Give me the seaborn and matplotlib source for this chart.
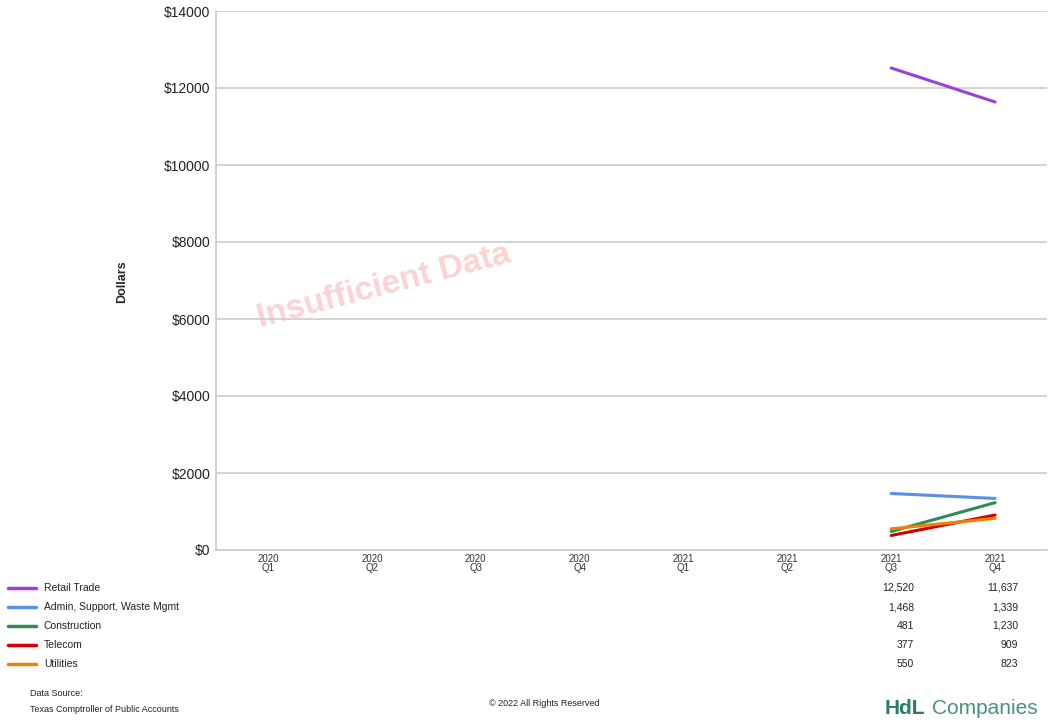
import numpy as np
import pandas as pd
import matplotlib
matplotlib.use("Agg")
import matplotlib.pyplot as plt
import seaborn as sns

# Quarterly sales tax per industry group
quarters = ["2020\nQ1", "2020\nQ2", "2020\nQ3", "2020\nQ4",
            "2021\nQ1", "2021\nQ2", "2021\nQ3", "2021\nQ4"]
series_names = ["Retail Trade", "Admin, Support, Waste Mgmt", "Construction",
                "Telecom", "Utilities"]
retail = [np.nan] * 6 + [12520, 11637]
admin = [np.nan] * 6 + [1468, 1339]
construction = [np.nan] * 6 + [481, 1230]
telecom = [np.nan] * 6 + [377, 909]
utilities = [np.nan] * 6 + [550, 823]
series_values = [retail, admin, construction, telecom, utilities]
colors = ["#9b3fdc", "#5b8ee6", "#2e8b57", "#d40000", "#f08000"]
yticks = [0, 2000, 4000, 6000, 8000, 10000, 12000, 14000]

rows = []
for name, vals in zip(series_names, series_values):
    for i, v in enumerate(vals):
        rows.append({"series": name, "idx": i, "value": v})
df = pd.DataFrame(rows)

sns.set_theme(style="white")
plt.rcParams["font.family"] = ["Liberation Sans", "DejaVu Sans"]

fig = plt.figure(figsize=(10.48, 7.21), dpi=100)
ax = fig.add_axes([216 / 1048, 1 - 550 / 721, 831 / 1048, 539 / 721])

# watermark behind the data
ax.text(0.202, 0.49, "Insufficient Data", transform=ax.transAxes, rotation=14.5,
        ha="center", va="center", fontsize=24, fontweight="bold",
        color="#fbd3d3", zorder=0)

sns.lineplot(data=df.dropna(), x="idx", y="value", hue="series",
             hue_order=series_names, palette=colors, linewidth=2.2,
             legend=False, ax=ax, zorder=3)

ax.set_xlim(-0.5, 7.5)
ax.set_ylim(0, 14000)
ax.set_yticks(yticks)
ax.set_yticklabels([f"${v}" for v in yticks], fontsize=10, color="#222222")
ax.set_xticks(range(len(quarters)))
ax.set_xticklabels(quarters, fontsize=7, color="#333333", linespacing=0.85)
ax.tick_params(axis="both", length=0, pad=4)
ax.tick_params(axis="x", pad=3)
ax.yaxis.grid(True, color="#cccccc", linewidth=1.2)
ax.xaxis.grid(False)
for side in ["top", "right"]:
    ax.spines[side].set_visible(False)
for side in ["left", "bottom"]:
    ax.spines[side].set_color("#cccccc")
    ax.spines[side].set_linewidth(1.2)
ax.set_xlabel("")
ax.set_ylabel("Dollars", fontsize=9, fontweight="bold")
ax.yaxis.set_label_coords(-0.106, 0.497)

# data table beneath the axis
row_y = [588, 607, 626, 645, 664]
col_x = [914, 1018]
for name, vals, c, y in zip(series_names, series_values, colors, row_y):
    fy = 1 - y / 721
    fig.add_artist(plt.Line2D([8 / 1048, 36 / 1048], [fy, fy], color=c,
                              linewidth=2.5, transform=fig.transFigure))
    fig.text(44 / 1048, fy, name, fontsize=7.5, color="#222222", va="center")
    for v, x in zip(vals[6:], col_x):
        fig.text(x / 1048, fy, f"{v:,}", fontsize=7.5, color="#222222",
                 va="center", ha="right")

fig.text(30 / 1048, 1 - 693 / 721, "Data Source:", fontsize=6.5,
         color="#222222", va="center")
fig.text(30 / 1048, 1 - 709 / 721, "Texas Comptroller of Public Accounts",
         fontsize=6.5, color="#222222", va="center")
fig.text(544 / 1048, 1 - 703 / 721, "\u00a9 2022 All Rights Reserved",
         fontsize=6.5, color="#222222", va="center", ha="center")
fig.text(885 / 1048, 1 - 708 / 721, "HdL", fontsize=15, fontweight="bold",
         color="#2a7a68", va="center", ha="left")
fig.text(1038 / 1048, 1 - 708 / 721, "Companies", fontsize=15,
         color="#4a8f80", va="center", ha="right")

fig.savefig("out.png", dpi=100)
